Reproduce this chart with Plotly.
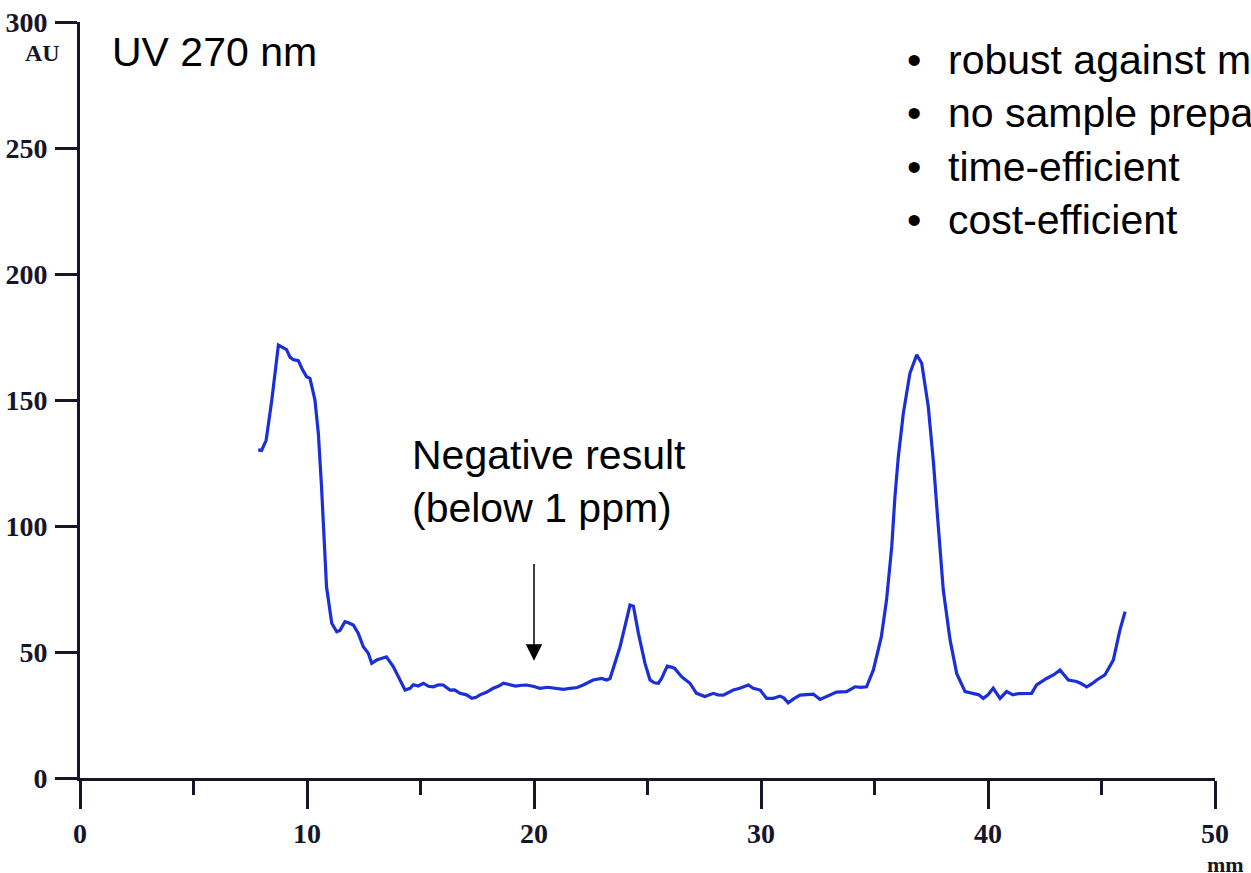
import plotly.graph_objects as go

# Chromatogram trace (mm, AU)
x_mm = [7.85, 8.0, 8.2, 8.45, 8.74, 8.9, 9.1, 9.25, 9.4, 9.62, 9.77, 9.98, 10.13, 10.35, 10.5,
        10.64, 10.86, 11.09, 11.31, 11.45, 11.67, 11.85, 12.04, 12.26, 12.48, 12.7, 12.85, 13.07,
        13.3, 13.5, 13.8, 14.1, 14.32, 14.54, 14.68, 14.9, 15.13, 15.35, 15.57, 15.8, 16.0, 16.3,
        16.5, 16.74, 17.03, 17.26, 17.45, 17.62, 17.9, 18.2, 18.45, 18.65, 18.9, 19.2, 19.45,
        19.68, 20.0, 20.26, 20.6, 21.0, 21.3, 21.6, 21.9, 22.17, 22.4, 22.6, 22.98, 23.2, 23.35,
        23.5, 23.79, 24.0, 24.23, 24.38, 24.6, 24.89, 25.11, 25.3, 25.48, 25.62, 25.87, 26.05,
        26.2, 26.5, 26.87, 27.16, 27.35, 27.53, 27.9, 28.1, 28.34, 28.55, 28.78, 29.07, 29.25,
        29.44, 29.66, 29.96, 30.25, 30.54, 30.84, 31.0, 31.2, 31.45, 31.72, 32.0, 32.3, 32.6,
        32.8, 33.04, 33.33, 33.77, 34.14, 34.4, 34.65, 34.95, 35.3, 35.53, 35.76, 35.9, 36.05,
        36.27, 36.56, 36.86, 37.08, 37.37, 37.6, 37.8, 38.03, 38.33, 38.62, 38.99, 39.35, 39.6,
        39.79, 40.0, 40.23, 40.4, 40.53, 40.82, 41.1, 41.35, 41.56, 41.92, 42.14, 42.58, 42.9,
        43.17, 43.54, 43.9, 44.1, 44.35, 44.6, 44.79, 45.15, 45.52, 45.81, 46.04]
au = [130.2, 130.0, 134.0, 150.0, 171.8, 171.0, 170.0, 167.0, 166.0, 165.6, 162.6, 159.2, 158.6,
      150.0, 136.8, 115.6, 75.9, 61.4, 58.0, 58.5, 62.0, 61.5, 60.7, 57.4, 52.1, 49.5, 45.5, 46.8,
      47.5, 48.1, 44.2, 38.9, 34.9, 35.6, 37.0, 36.5, 37.6, 36.4, 36.2, 37.0, 36.9, 34.9, 35.0,
      33.6, 33.0, 31.6, 32.0, 33.0, 34.0, 35.6, 36.5, 37.6, 37.0, 36.5, 36.8, 36.9, 36.3, 35.6,
      36.0, 35.6, 35.2, 35.6, 35.9, 36.9, 37.8, 38.9, 39.5, 38.9, 39.5, 44.0, 52.1, 60.0, 68.6,
      68.2, 57.4, 45.5, 38.9, 37.8, 37.6, 39.5, 44.4, 44.0, 43.5, 40.2, 37.6, 33.6, 33.0, 32.3,
      33.6, 33.0, 32.9, 33.8, 34.9, 35.6, 36.3, 36.9, 35.6, 34.9, 31.6, 31.6, 32.5, 31.8, 29.8,
      31.5, 32.9, 33.0, 33.3, 31.2, 32.0, 32.9, 34.1, 34.3, 36.2, 36.0, 36.2, 42.9, 56.0, 70.6,
      91.8, 111.6, 127.5, 144.7, 160.6, 167.9, 164.6, 147.3, 124.9, 101.0, 74.6, 54.8, 41.5, 34.3,
      33.6, 33.0, 31.6, 33.0, 35.6, 33.0, 31.6, 34.3, 33.0, 33.5, 33.6, 33.6, 36.9, 39.5, 41.0,
      42.9, 38.9, 38.3, 37.5, 36.2, 37.5, 38.9, 40.9, 46.8, 58.7, 66.0]

x_ticks = [0, 10, 20, 30, 40, 50]
y_ticks = [0, 50, 100, 150, 200, 250, 300]
bullets = ["robust against matrix effects", "no sample preparation", "time-efficient", "cost-efficient"]

AXIS_COLOR = "#16162a"
LABEL_FONT = dict(family="Liberation Serif", size=28, color=AXIS_COLOR, weight="bold")
TEXT_FONT = dict(family="Liberation Sans, Arial", size=41, color="#000000")

fig = go.Figure()
fig.add_trace(go.Scatter(x=x_mm, y=au, mode="lines",
                         line=dict(color="#1b2fd8", width=3.2), showlegend=False,
                         hoverinfo="skip"))

fig.update_layout(
    width=1251, height=873,
    margin=dict(l=80, r=36, t=22, b=95),
    paper_bgcolor="white", plot_bgcolor="white",
    showlegend=False,
)
fig.update_xaxes(range=[0, 50], tickvals=x_ticks, ticktext=[str(v) for v in x_ticks],
                 automargin=False,
                 showgrid=False, zeroline=False, showline=True, linecolor=AXIS_COLOR,
                 linewidth=3, ticks="outside", ticklen=28, tickwidth=3, tickcolor=AXIS_COLOR,
                 tickfont=LABEL_FONT,
                 minor=dict(tickvals=[5, 15, 25, 35, 45], ticks="outside", ticklen=14,
                            tickwidth=3, tickcolor=AXIS_COLOR, showgrid=False))
fig.update_yaxes(range=[0, 300], tickvals=y_ticks, ticktext=[str(v) for v in y_ticks],
                 automargin=False,
                 showgrid=False, zeroline=False, showline=True, linecolor=AXIS_COLOR,
                 linewidth=3, ticks="outside", ticklen=22, tickwidth=3, tickcolor=AXIS_COLOR,
                 tickfont=LABEL_FONT, ticklabelstandoff=2)

# axis unit labels
fig.add_annotation(x=0, y=1, xref="paper", yref="paper", text="<b>AU</b>", showarrow=False,
                   xanchor="center", yanchor="middle", xshift=-38, yshift=-31,
                   font=dict(family="Liberation Serif", size=24, color=AXIS_COLOR))
fig.add_annotation(x=1, y=0, xref="paper", yref="paper", text="<b>mm</b>", showarrow=False,
                   xanchor="center", yanchor="middle", xshift=10, yshift=-86,
                   font=dict(family="Liberation Serif", size=22, color=AXIS_COLOR))

# texts
fig.add_annotation(x=0, y=1, xref="paper", yref="paper", text="UV 270 nm", showarrow=False,
                   xanchor="left", yanchor="middle", xshift=30, yshift=-30, font=TEXT_FONT)
fig.add_annotation(x=14.54, y=117.5, xref="x", yref="y",
                   text="Negative result<br>(below 1 ppm)", showarrow=False, align="left",
                   xanchor="left", yanchor="middle", font=TEXT_FONT)
fig.add_annotation(x=20, y=46.5, ax=20, ay=85.5, xref="x", yref="y", axref="x", ayref="y",
                   text="", showarrow=True, arrowhead=2, arrowsize=2.2, arrowwidth=1.5,
                   arrowcolor="#000000")
fig.add_annotation(x=0, y=1, xref="paper", yref="paper",
                   text="<br>".join("•" for _ in bullets), showarrow=False, align="center",
                   xanchor="center", yanchor="middle", xshift=834, yshift=-118,
                   font=TEXT_FONT)
fig.add_annotation(x=0, y=1, xref="paper", yref="paper",
                   text="<br>".join(bullets), showarrow=False, align="left",
                   xanchor="left", yanchor="middle", xshift=866, yshift=-118,
                   font=TEXT_FONT)

fig.write_html("out.html")
